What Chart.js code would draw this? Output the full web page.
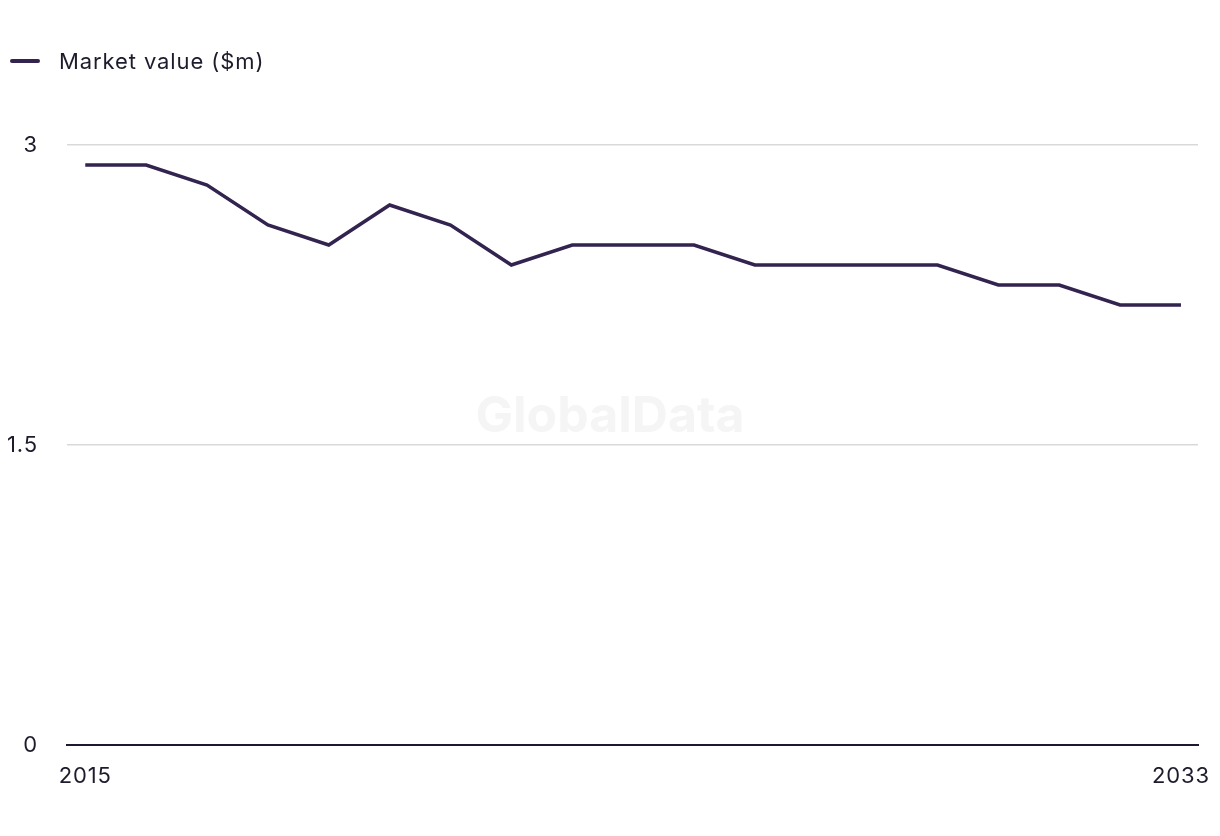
<!DOCTYPE html>
<html>
<head>
<meta charset="utf-8">
<script src="https://cdn.jsdelivr.net/npm/chart.js@4.4.1/dist/chart.umd.min.js"></script>
<style>
  html, body { margin: 0; padding: 0; background: #fff; }
  #wrap { position: relative; width: 1220px; height: 836px; }
  #legend { position: absolute; left: 10px; top: 48px; font-family: Inter, "Liberation Sans", sans-serif; font-size: 22px; line-height: 26px; letter-spacing: 0.9px; color: #1d1c2c; display: flex; align-items: center; }
  #legend span.swatch { display: inline-block; width: 30px; height: 3.5px; background: #32234f; margin-right: 19px; border-radius: 2px; }
</style>
</head>
<body>
<div id="wrap">
  <canvas id="chart" width="1220" height="836"></canvas>
  <div id="legend"><span class="swatch"></span><span>Market value ($m)</span></div>
</div>
<script>
const years = [2015, 2016, 2017, 2018, 2019, 2020, 2021, 2022, 2023, 2024, 2025, 2026, 2027, 2028, 2029, 2030, 2031, 2032, 2033];
const marketValue = [2.9, 2.9, 2.8, 2.6, 2.5, 2.7, 2.6, 2.4, 2.5, 2.5, 2.5, 2.4, 2.4, 2.4, 2.4, 2.3, 2.3, 2.2, 2.2];
const xTicks = [2015, 2033];
const yTicks = [0, 1.5, 3];

const seriesName = 'Market value ($m)';
const lineColor = '#32234f';
const textColor = '#1d1c2c';
const font = { family: 'Inter, "Liberation Sans", sans-serif', size: 22 };

// wider letter spacing on the canvas text, the source font runs wide
const spacing = {
  id: 'spacing',
  beforeDraw(chart) { chart.ctx.letterSpacing = '0.9px'; }
};

// faint watermark in the middle of the plot
const watermark = {
  id: 'watermark',
  beforeDatasetsDraw(chart) {
    const ctx = chart.ctx;
    ctx.save();
    ctx.letterSpacing = '0px';
    ctx.font = 'bold 50px Inter, "Liberation Sans", sans-serif';
    ctx.fillStyle = '#f5f5f5';
    ctx.textAlign = 'center';
    ctx.textBaseline = 'middle';
    ctx.fillText('GlobalData', 610, 417);
    ctx.restore();
  }
};

new Chart(document.getElementById('chart'), {
  type: 'line',
  data: {
    datasets: [{
      label: seriesName,
      data: years.map((y, i) => ({ x: y, y: marketValue[i] })),
      borderColor: lineColor,
      backgroundColor: lineColor,
      borderWidth: 3.5,
      pointRadius: 0,
      tension: 0
    }]
  },
  options: {
    responsive: false,
    animation: false,
    layout: { padding: { top: 145, right: 22, left: 0, bottom: 0 } },
    plugins: { legend: { display: false }, tooltip: { enabled: false } },
    scales: {
      x: {
        type: 'linear',
        min: 2014.7,
        max: 2033.28,
        afterBuildTicks: s => { s.ticks = xTicks.map(v => ({ value: v })); },
        afterFit: s => { s.height = 91; s.paddingLeft = 0; s.paddingRight = 0; },
        grid: { display: false, drawTicks: false },
        border: { display: true, color: '#1b1a2e', width: 2 },
        ticks: { color: textColor, font: font, padding: 18, maxRotation: 0, autoSkip: false, callback: v => String(v) }
      },
      y: {
        min: 0,
        max: 3,
        afterBuildTicks: s => { s.ticks = yTicks.map(v => ({ value: v })); },
        afterFit: s => { s.width = 67; },
        grid: { color: '#d9d9d9', lineWidth: 1.5, drawTicks: false },
        border: { display: false },
        ticks: { color: textColor, font: font, padding: 29, callback: v => String(v) }
      }
    }
  },
  plugins: [spacing, watermark]
});
</script>
</body>
</html>
